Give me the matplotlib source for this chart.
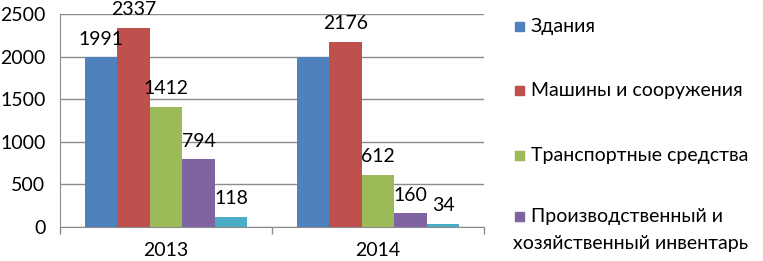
import matplotlib
matplotlib.use("Agg")
import matplotlib.pyplot as plt
import numpy as np
from matplotlib.patches import Rectangle

plt.rcParams['font.family'] = ['Lato', 'DejaVu Sans']

# data
years = ['2013', '2014']
series_names = ['Здания', 'Машины и сооружения', 'Транспортные средства',
                'Производственный и\nхозяйственный инвентарь', 'Прочие']
values = [
    [1991, 1991],
    [2337, 2176],
    [1412, 612],
    [794, 160],
    [118, 34],
]
# the 2014 "Здания" bar has no label in the source
show_label = [
    [True, False],
    [True, True],
    [True, True],
    [True, True],
    [True, True],
]
colors = ['#4F81BD', '#C0504D', '#9BBB59', '#8064A2', '#4BACC6']
yticks = [0, 500, 1000, 1500, 2000, 2500]

FS = 14

fig = plt.figure(figsize=(7.63, 2.61), dpi=100)
ax = fig.add_axes([0.0786, 0.130, 0.556, 0.816])

x = np.arange(len(years))
w = 0.153
for i, (vals, col) in enumerate(zip(values, colors)):
    pos = x + (i - 2) * w
    bars = ax.bar(pos, vals, width=w, color=col, zorder=2)
    for b, v, lab in zip(bars, vals, show_label[i]):
        if lab:
            ax.annotate(str(v), (b.get_x() + b.get_width() / 2, v),
                        xytext=(0, 7), textcoords='offset points',
                        ha='center', va='bottom', fontsize=FS,
                        annotation_clip=False)

ax.set_xlim(-0.5, 1.5)
ax.set_ylim(0, 2500)
ax.set_yticks(yticks)
ax.yaxis.grid(True, color='#8c8c8c', linewidth=1, zorder=0)
ax.tick_params(axis='y', length=0, pad=10.5, labelsize=FS)

# category labels between boundary ticks
ax.set_xticks([-0.5, 0.5, 1.5])
ax.set_xticklabels([])
ax.set_xticks(x, minor=True)
ax.set_xticklabels(years, minor=True, fontsize=FS)
ax.tick_params(axis='x', which='major', length=5, color='#8c8c8c', width=1)
ax.tick_params(axis='x', which='minor', length=0, pad=11)

for s in ['top', 'right']:
    ax.spines[s].set_visible(False)
for s in ['left', 'bottom']:
    ax.spines[s].set_color('#8c8c8c')

# legend (only the first four entries fit in the source);
# wrapped lines start under the marker, like the source
leg_y = [0.900, 0.655, 0.405, 0.172]
mark_x, text_x, line_h = 0.675, 0.696, 0.105
for name, col, yy in zip(series_names[:4], colors[:4], leg_y):
    fig.patches.append(Rectangle((mark_x, yy - 0.018), 0.0115, 0.034,
                                 transform=fig.transFigure, color=col))
    for k, line in enumerate(name.split('\n')):
        fig.text(text_x if k == 0 else mark_x - 0.003, yy - k * line_h,
                 line, fontsize=FS, va='center', ha='left')

fig.savefig('out.png', dpi=100)
